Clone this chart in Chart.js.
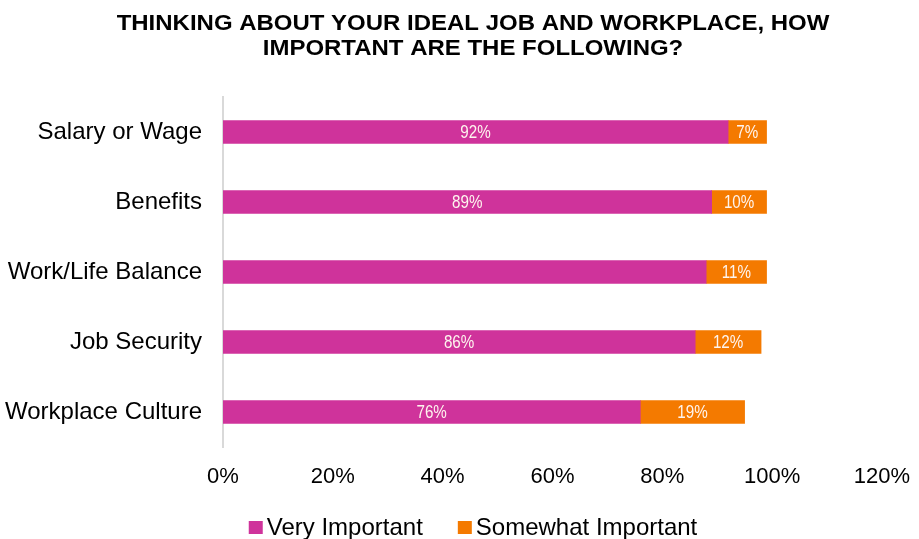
<!DOCTYPE html>
<html>
<head>
<meta charset="utf-8">
<script src="https://cdn.jsdelivr.net/npm/chart.js@4.4.1/dist/chart.umd.min.js"></script>
<style>
  html, body { margin: 0; padding: 0; background: #fff; }
  #wrap { width: 919px; height: 539px; }
</style>
</head>
<body>
<div id="wrap"><canvas id="myChart" width="919" height="539"></canvas></div>
<script>
const categories = ["Salary or Wage", "Benefits", "Work/Life Balance", "Job Security", "Workplace Culture"];
const veryImportant = [92, 89, 88, 86, 76];
const somewhatImportant = [7, 10, 11, 12, 19];
// printed labels; the Work/Life "very important" label is not shown
const veryLabels = ["92%", "89%", null, "86%", "76%"];
const somewhatLabels = ["7%", "10%", "11%", "12%", "19%"];
const xTicks = [0, 20, 40, 60, 80, 100, 120];
const titleLines = ["THINKING ABOUT YOUR IDEAL JOB AND WORKPLACE, HOW", "IMPORTANT ARE THE FOLLOWING?"];

const FONT = "'Liberation Sans', Arial, sans-serif";
const PINK = "#cf339b";
const ORANGE = "#f47a00";

// title (wide bold) and legend drawn straight onto the canvas
const decorations = {
  id: "decorations",
  afterDraw(chart) {
    const ctx = chart.ctx;
    const cx = 473;
    ctx.save();
    ctx.fillStyle = "#000";
    ctx.textAlign = "center";
    ctx.textBaseline = "middle";
    ctx.font = "bold 22px " + FONT;
    [24, 49].forEach((y, i) => {
      ctx.save();
      ctx.translate(cx, y);
      ctx.scale(1.09, 1);
      ctx.fillText(titleLines[i], 0, 0);
      ctx.restore();
    });

    // legend
    ctx.font = "24px " + FONT;
    ctx.textAlign = "left";
    const items = chart.data.datasets.map(ds => ({ text: ds.label, color: ds.backgroundColor }));
    const box = 14, gap = 4, between = 35;
    const widths = items.map(it => box + gap + ctx.measureText(it.text).width);
    const total = widths.reduce((a, b) => a + b, 0) + between * (items.length - 1);
    let x = cx - total / 2;
    const y = 527;
    items.forEach((it, i) => {
      ctx.fillStyle = it.color;
      ctx.fillRect(x, y - 6, box, 13);
      ctx.fillStyle = "#000";
      ctx.fillText(it.text, x + box + gap, y + 1);
      x += widths[i] + between;
    });
    ctx.restore();
  }
};

// writes the value labels in the middle of each bar segment
const barLabels = {
  id: "barLabels",
  afterDatasetsDraw(chart) {
    const ctx = chart.ctx;
    ctx.save();
    ctx.font = "19px " + FONT;
    ctx.fillStyle = "#fef4ee";
    ctx.textAlign = "center";
    ctx.textBaseline = "middle";
    chart.data.datasets.forEach((ds, i) => {
      const meta = chart.getDatasetMeta(i);
      meta.data.forEach((bar, j) => {
        const txt = ds.labels[j];
        if (!txt) return;
        ctx.save();
        ctx.translate((bar.x + bar.base) / 2, bar.y + 1);
        ctx.scale(0.8, 1);
        ctx.fillText(txt, 0, 0);
        ctx.restore();
      });
    });
    ctx.restore();
  }
};

const ctx = document.getElementById("myChart").getContext("2d");
new Chart(ctx, {
  type: "bar",
  data: {
    labels: categories,
    datasets: [{
      label: "Very Important",
      data: veryImportant,
      labels: veryLabels,
      backgroundColor: PINK,
      barThickness: 23
    }, {
      label: "Somewhat Important",
      data: somewhatImportant,
      labels: somewhatLabels,
      backgroundColor: ORANGE,
      barThickness: 23
    }]
  },
  options: {
    indexAxis: "y",
    responsive: false,
    animation: false,
    layout: { padding: { left: 0, right: 35, top: 97, bottom: 52 } },
    plugins: {
      title: { display: false },
      legend: { display: false },
      tooltip: { enabled: false }
    },
    scales: {
      x: {
        stacked: true,
        min: 0,
        max: 120,
        afterBuildTicks: axis => { axis.ticks = xTicks.map(v => ({ value: v })); },
        afterFit: axis => { axis.height = 40; },
        ticks: {
          color: "#000",
          font: { family: FONT, size: 22 },
          padding: 9,
          maxRotation: 0,
          callback: v => v + "%"
        },
        grid: { display: false },
        border: { display: false }
      },
      y: {
        stacked: true,
        afterFit: axis => { axis.width = 223; },
        ticks: {
          color: "#000",
          font: { family: FONT, size: 24 },
          padding: 13
        },
        grid: { display: false },
        border: { display: true, color: "#d9d9d9", width: 2 }
      }
    }
  },
  plugins: [barLabels, decorations]
});
</script>
</body>
</html>
